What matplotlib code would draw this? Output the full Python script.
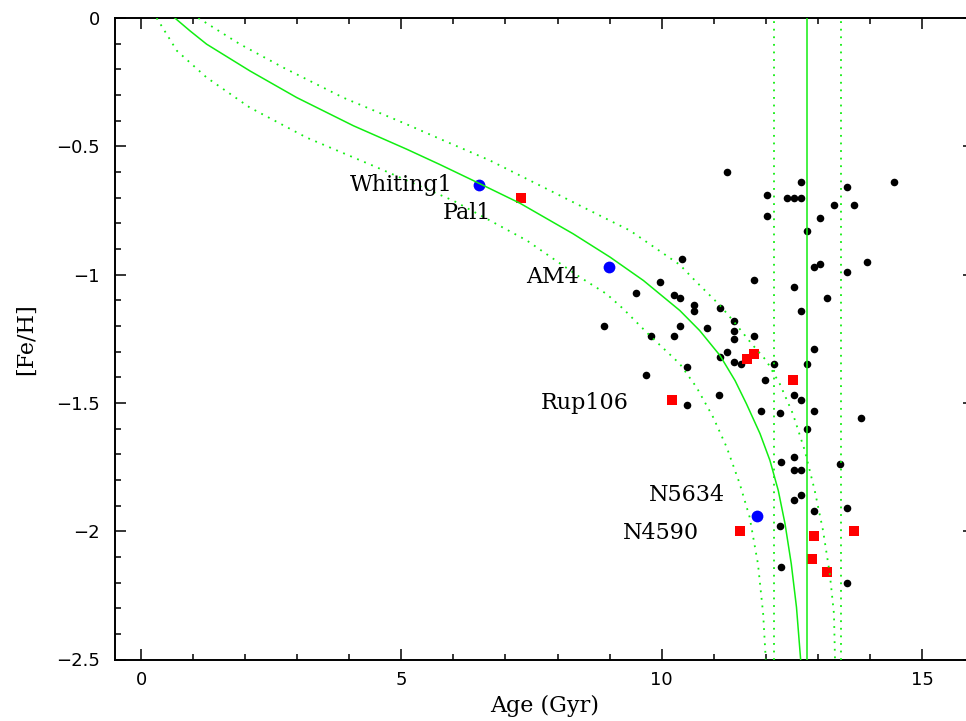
import matplotlib
matplotlib.use("Agg")
import matplotlib.pyplot as plt
from matplotlib.ticker import MultipleLocator, FuncFormatter

# model age-metallicity relation
model_age = [0.65, 0.94, 1.26, 2.09, 2.99, 4.08, 5.10, 5.74, 6.50, 7.28, 8.30,
             9.01, 9.65, 10.35, 10.73, 11.12, 11.41, 11.63, 11.89, 12.08, 12.24,
             12.37, 12.49, 12.59, 12.67]
model_feh = [0.0, -0.050, -0.102, -0.206, -0.310, -0.420, -0.511, -0.571, -0.645,
             -0.722, -0.841, -0.932, -1.023, -1.140, -1.218, -1.315, -1.413,
             -1.504, -1.620, -1.724, -1.841, -1.971, -2.127, -2.296, -2.500]

upper_age = [1.10, 1.90, 2.73, 3.88, 5.10, 5.74, 6.70, 7.98, 8.43, 9.13, 9.39,
             10.35, 10.64, 11.12, 11.37, 11.73, 12.01, 12.27, 12.52, 12.75, 12.94,
             13.10, 13.23, 13.31, 13.33]
upper_feh = [0.0, -0.102, -0.193, -0.310, -0.414, -0.471, -0.555, -0.685, -0.731,
             -0.802, -0.828, -0.962, -1.023, -1.120, -1.179, -1.270, -1.335,
             -1.426, -1.542, -1.686, -1.841, -1.997, -2.166, -2.322, -2.500]

lower_age = [0.30, 0.69, 1.26, 2.09, 3.18, 4.46, 6.00, 7.41, 8.43, 8.94, 9.26,
             9.77, 10.35, 10.67, 10.99, 11.25, 11.50, 11.69, 11.85, 11.95, 12.00]
lower_feh = [0.0, -0.128, -0.232, -0.349, -0.466, -0.576, -0.712, -0.867, -1.010,
             -1.075, -1.133, -1.237, -1.348, -1.439, -1.556, -1.673, -1.815,
             -1.945, -2.127, -2.322, -2.500]

old_age = 12.8
old_err = 0.65

# globular clusters
black_age = [11.25, 12.67, 12.03, 12.41, 12.54, 12.67, 12.03, 12.79, 14.46, 13.56,
             13.31, 13.69, 13.05, 10.40, 12.92, 13.05, 13.56, 13.95, 11.77, 12.54,
             13.18, 12.67, 9.97, 9.50, 10.23, 10.36, 10.62, 10.62, 11.13, 11.39,
             11.39, 11.39, 11.77, 10.36, 10.87, 8.89, 9.79, 10.23, 11.26, 11.13,
             11.39, 11.52, 12.15, 12.79, 12.92, 10.49, 9.70, 11.99, 11.10, 12.54,
             12.67, 12.92, 10.49, 11.90, 12.28, 13.82, 12.79, 12.30, 12.54, 12.54,
             12.67, 13.43, 12.67, 12.54, 12.92, 13.56, 12.28, 12.30, 13.56]
black_feh = [-0.60, -0.64, -0.69, -0.70, -0.70, -0.70, -0.77, -0.83, -0.64, -0.66,
             -0.73, -0.73, -0.78, -0.94, -0.97, -0.96, -0.99, -0.95, -1.02, -1.05,
             -1.09, -1.14, -1.03, -1.07, -1.08, -1.09, -1.12, -1.14, -1.13, -1.18,
             -1.22, -1.25, -1.24, -1.20, -1.21, -1.20, -1.24, -1.24, -1.30, -1.32,
             -1.34, -1.35, -1.35, -1.35, -1.29, -1.36, -1.39, -1.41, -1.47, -1.47,
             -1.49, -1.53, -1.51, -1.53, -1.54, -1.56, -1.60, -1.73, -1.71, -1.76,
             -1.76, -1.74, -1.86, -1.88, -1.92, -1.91, -1.98, -2.14, -2.20]

red_age = [7.30, 11.77, 11.64, 12.53, 10.20, 11.51, 12.93, 12.89, 13.18, 13.70]
red_feh = [-0.70, -1.31, -1.33, -1.41, -1.49, -2.00, -2.02, -2.11, -2.16, -2.00]

blue_age = [6.50, 8.99, 11.83]
blue_feh = [-0.65, -0.97, -1.94]

# label text, right edge / baseline position
names = ["Whiting1", "Pal1", "AM4", "Rup106", "N5634", "N4590"]
name_x = [5.99, 6.73, 8.42, 9.37, 11.21, 10.71]
name_y = [-0.675, -0.783, -1.034, -1.523, -1.883, -2.032]

green = "#11ee11"
dots = (0, (1, 3.2))

fig = plt.figure(figsize=(9.66, 7.21), dpi=100)
ax = fig.add_axes([115 / 966, 61.5 / 721, 859 / 966, 641.5 / 721])

ax.scatter(black_age, black_feh, s=30, c="black", linewidths=0, zorder=2)
ax.scatter(red_age, red_feh, s=42, c="#ff0000", marker="s", linewidths=0, zorder=2)
ax.scatter(blue_age, blue_feh, s=72, c="#0000ff", linewidths=0, zorder=2)

ax.plot(model_age, model_feh, color=green, lw=1.1, zorder=3)
ax.plot(upper_age, upper_feh, color=green, lw=1.3, ls=dots, zorder=3)
ax.plot(lower_age, lower_feh, color=green, lw=1.3, ls=dots, zorder=3)
ax.axvline(old_age, color=green, lw=1.1, zorder=3)
ax.axvline(old_age - old_err, color=green, lw=1.3, ls=dots, zorder=3)
ax.axvline(old_age + old_err, color=green, lw=1.3, ls=dots, zorder=3)

for n, x, y in zip(names, name_x, name_y):
    ax.text(x, y, n, ha="right", va="baseline", fontsize=16,
            family="DejaVu Serif")

ax.set_xlim(-0.5, 16)
ax.set_ylim(-2.5, 0)
ax.xaxis.set_major_locator(MultipleLocator(5))
ax.xaxis.set_minor_locator(MultipleLocator(1))
ax.yaxis.set_major_locator(MultipleLocator(0.5))
ax.yaxis.set_minor_locator(MultipleLocator(0.1))
fmt = FuncFormatter(lambda v, p: ("%g" % round(v, 2)).replace("-", "\u2212"))
ax.xaxis.set_major_formatter(fmt)
ax.yaxis.set_major_formatter(fmt)

ax.tick_params(which="both", direction="in", top=True, right=True, width=1.1,
               labelsize=13)
ax.tick_params(which="major", length=8)
ax.tick_params(which="minor", length=4)
ax.tick_params(axis="x", pad=8)
ax.tick_params(axis="y", pad=11)
for sp in ax.spines.values():
    sp.set_linewidth(1.4)

ax.set_xlabel("Age (Gyr)", fontsize=16, family="DejaVu Serif")
ax.set_ylabel("[Fe/H]", fontsize=16, family="DejaVu Serif")
ax.xaxis.set_label_coords(0.5, -0.055)
ax.yaxis.set_label_coords(-0.091, 0.5)

fig.savefig("out.png", dpi=100)
